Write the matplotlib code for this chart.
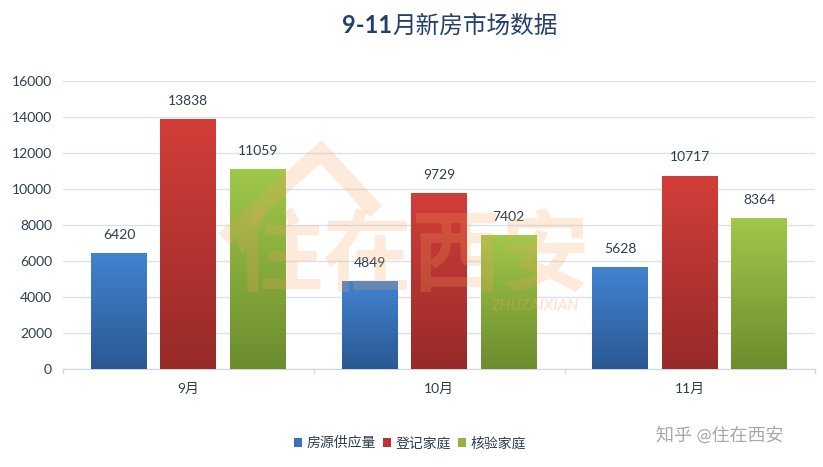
import numpy as np
import matplotlib
matplotlib.use("Agg")
import matplotlib.pyplot as plt
from matplotlib.patches import Patch

plt.rcParams['font.family'] = ['Lato', 'Noto Sans CJK SC', 'DejaVu Sans']

months = ['9月', '10月', '11月']
series_names = ['房源供应量', '登记家庭', '核验家庭']
supply = [6420, 4849, 5628]
registered = [13838, 9729, 10717]
verified = [11059, 7402, 8364]
yticks = [0, 2000, 4000, 6000, 8000, 10000, 12000, 14000, 16000]

# top / bottom colour of each gradient
grads = [('#4283d0', '#2b5893'), ('#d33e3a', '#962a28'), ('#a0c84a', '#6c8c2e')]
legend_cols = ['#3a72b8', '#b83432', '#8fb43f']

fig = plt.figure(figsize=(8.23, 4.67), dpi=100)
ax = fig.add_axes([0.0766, 0.21, 0.914, 0.6166])

x = np.arange(len(months))
w = 0.223
offs = [-0.277, 0, 0.277]
txt = '#2d3e50'


def grad_bar(ax, xc, h, c_top, c_bot):
    n = 256
    t = np.linspace(0, 1, n)[:, None]
    top = np.array(matplotlib.colors.to_rgb(c_top))
    bot = np.array(matplotlib.colors.to_rgb(c_bot))
    img = bot[None, :] * (1 - t[..., None]) + top[None, :] * t[..., None]
    img = np.repeat(img, 2, axis=1)
    ax.imshow(img, extent=(xc - w / 2, xc + w / 2, 0, h), origin='lower',
              aspect='auto', zorder=3, interpolation='bilinear')


for vals, o, (ct, cb) in zip([supply, registered, verified], offs, grads):
    for xi, v in zip(x, vals):
        grad_bar(ax, xi + o, v, ct, cb)
        ax.text(xi + o, v + 700, str(v), ha='center', va='bottom',
                fontsize=10, color=txt, zorder=5)

ax.set_xlim(-0.5, 2.5)
ax.set_ylim(0, 16000)
ax.set_yticks(yticks)
ax.set_yticklabels([str(v) for v in yticks], fontsize=10, color=txt)
ax.set_xticks(x)
ax.set_xticklabels(months, fontsize=10, color=txt)
ax.tick_params(axis='x', length=0, pad=10)
ax.tick_params(axis='y', length=0, pad=8)
ax.grid(axis='y', color='#d8e2e8', linewidth=1, zorder=0)
ax.set_axisbelow(True)
for s in ['top', 'right', 'left']:
    ax.spines[s].set_visible(False)
ax.spines['bottom'].set_color('#d0d8de')
# small separators between month groups
for b in [-0.5, 0.5, 1.5, 2.5]:
    ax.plot([b, b], [0, -250], color='#d0d8de', lw=1, clip_on=False, zorder=1)

# faded watermark
fig.text(0.50, 0.45, '住在西安', fontsize=64, fontweight='bold',
         color='#f7a35c', alpha=0.22, ha='center', va='center', zorder=0)
fig.text(0.65, 0.345, 'ZHUZAIXIAN', fontsize=11, fontweight='bold', style='italic',
         color='#f7a35c', alpha=0.28, ha='center', va='center')
fig.lines.append(plt.Line2D([0.28, 0.39, 0.45], [0.50, 0.675, 0.56],
                            transform=fig.transFigure, color='#f7a35c',
                            alpha=0.22, lw=12, solid_joinstyle='miter'))

fig.text(0.477, 0.945, '9-11', fontsize=17, fontweight='bold',
         color='#23406b', ha='right', va='center')
fig.text(0.477, 0.945, '月新房市场数据', fontsize=17,
         color='#23406b', ha='left', va='center')

handles = [Patch(facecolor=c) for c in legend_cols]
fig.legend(handles, series_names, loc='center', bbox_to_anchor=(0.498, 0.052),
           ncol=3, frameon=False, fontsize=10, handlelength=0.6, handleheight=0.6,
           handletextpad=0.3, columnspacing=0.5, labelcolor=txt)

fig.text(0.875, 0.068, '知乎 @住在西安', fontsize=13, color='#a8a8a8',
         ha='center', va='center')

fig.savefig('out.png', dpi=100)
